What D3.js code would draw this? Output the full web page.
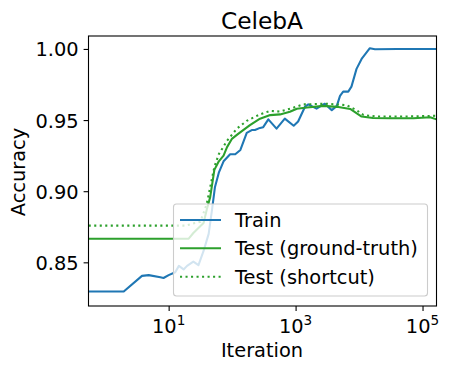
<!DOCTYPE html>
<html><head><meta charset="utf-8">
<script src="https://cdn.jsdelivr.net/npm/d3@7"></script>
<style>body{margin:0;background:#fff}text{font-family:"DejaVu Sans",sans-serif;fill:#000}</style>
</head><body><svg id="c" width="449" height="372"></svg>
<script>
const trainIter = [0.55,1.96,3.8,4.85,7.4,8.3,10,12.7,14.5,17.2,19.5,24.5,29.5,35.5,42.7,47.9,53.7,61.7,73.3,93,112,135,170,204,229,275,309,372,501,676,933,1096,1413,1585,2138,2884,3715,4467,5012,5623,6761,7586,9120,10965,14791,17783,40000,166000];
const trainAcc  = [0.8295,0.8295,0.8405,0.841,0.8395,0.839,0.841,0.843,0.8475,0.845,0.8475,0.8505,0.848,0.858,0.870,0.886,0.903,0.913,0.921,0.926,0.926,0.929,0.941,0.943,0.943,0.9445,0.945,0.9505,0.944,0.951,0.946,0.949,0.9595,0.961,0.958,0.9615,0.957,0.960,0.967,0.970,0.970,0.9735,0.986,0.993,1.0005,0.9998,1.0,1.0];
const gtIter = [0.55,20.7,24.5,35.5,39.8,45.2,52.5,61.7,73.3,83.2,100,126,191,275,398,569,813,1047,1513,2754,4467,7244,10965,16596,30903,72444,131826,166000];
const gtAcc  = [0.8666,0.8666,0.8706,0.8777,0.887,0.896,0.915,0.921,0.925,0.931,0.937,0.9405,0.9465,0.951,0.9535,0.954,0.9558,0.958,0.9588,0.960,0.9593,0.9578,0.9525,0.9515,0.9513,0.9513,0.952,0.9505];
const scIter = [0.55,18.2,31.6,39.8,45.2,52.5,61.7,83.2,119,170,275,398,569,933,1318,3090,6310,9120,11749,19055,50000,166000];
const scAcc  = [0.8758,0.8758,0.8785,0.891,0.903,0.917,0.926,0.9355,0.944,0.9495,0.954,0.9565,0.956,0.9588,0.961,0.9615,0.9605,0.957,0.9535,0.9525,0.9525,0.953];
const xTicks = [10, 1000, 100000];
const xTickExp = ["1","3","5"];
const yTicks = [0.85, 0.90, 0.95, 1.00];
const legendLabels = ["Train","Test (ground-truth)","Test (shortcut)"];

const svg = d3.select("#c");
const L=88.5, R=436.5, T=36, B=306;
const x = d3.scaleLog().domain([0.546,166000]).range([L,R]);
const y = d3.scaleLinear().domain([0.8193,1.0091]).range([B,T]);
const fs = 19.4;

const clip = svg.append("clipPath").attr("id","cp").append("rect").attr("x",L).attr("y",T).attr("width",R-L).attr("height",B-T);
const g = svg.append("g").attr("clip-path","url(#cp)");
const line = d3.line().x(d=>x(d[0])).y(d=>y(d[1]));
g.append("path").datum(trainIter.map((v,i)=>[v,trainAcc[i]])).attr("d",line).attr("fill","none").attr("stroke","#1f77b4").attr("stroke-width",2.08).attr("stroke-linejoin","round");
g.append("path").datum(gtIter.map((v,i)=>[v,gtAcc[i]])).attr("d",line).attr("fill","none").attr("stroke","#2ca02c").attr("stroke-width",2.08).attr("stroke-linejoin","round");
g.append("path").datum(scIter.map((v,i)=>[v,scAcc[i]])).attr("d",line).attr("fill","none").attr("stroke","#2ca02c").attr("stroke-width",2.08).attr("stroke-dasharray","2.08,3.43");

// frame
svg.append("rect").attr("x",L).attr("y",T).attr("width",R-L).attr("height",B-T).attr("fill","none").attr("stroke","#000").attr("stroke-width",1.1);

// x axis
const xa = svg.append("g").attr("transform",`translate(0,${B})`).call(d3.axisBottom(x).tickValues(xTicks).tickSize(4.9).tickFormat(""));
xa.select(".domain").remove();
xa.selectAll("line").attr("stroke-width",1.1);
xTicks.forEach((t,i)=>{
  const tx = svg.append("text").attr("x",x(t)).attr("y",333).attr("text-anchor","middle").attr("font-size",fs);
  tx.append("tspan").text("10");
  tx.append("tspan").attr("dy",-8).attr("font-size",fs*0.7).text(xTickExp[i]);
});
// y axis
const ya = svg.append("g").attr("transform",`translate(${L},0)`).call(d3.axisLeft(y).tickValues(yTicks).tickSize(4.9).tickPadding(5).tickFormat(d3.format(".2f")));
ya.select(".domain").remove();
ya.selectAll("line").attr("stroke-width",1.1);
ya.selectAll("text").attr("font-size",fs).attr("font-family","DejaVu Sans").attr("dy","0.36em");

svg.append("text").attr("x",262).attr("y",28.5).attr("text-anchor","middle").attr("font-size",23.3).text("CelebA");
svg.append("text").attr("x",262).attr("y",357).attr("text-anchor","middle").attr("font-size",fs).text("Iteration");
svg.append("text").attr("transform","translate(24.5,172) rotate(-90)").attr("text-anchor","middle").attr("font-size",fs).text("Accuracy");

// legend
const lg = svg.append("g");
lg.append("rect").attr("x",173.5).attr("y",204).attr("width",254).attr("height",92).attr("rx",3).attr("fill","#fff").attr("fill-opacity",0.8).attr("stroke","#cccccc").attr("stroke-width",1.1);
const rows=[220,248.3,276.7];
const styles=[["#1f77b4",null],["#2ca02c",null],["#2ca02c","2.08,3.43"]];
legendLabels.forEach((lab,i)=>{
  const ln = lg.append("line").attr("x1",180).attr("x2",221).attr("y1",rows[i]).attr("y2",rows[i]).attr("stroke",styles[i][0]).attr("stroke-width",2.08);
  if(styles[i][1]) ln.attr("stroke-dasharray",styles[i][1]);
  lg.append("text").attr("x",235).attr("y",rows[i]).attr("dy","0.36em").attr("font-size",fs).text(lab);
});
</script></body></html>
